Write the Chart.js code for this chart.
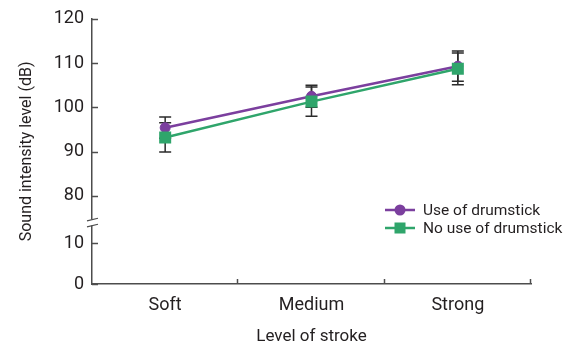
<!DOCTYPE html>
<html><head><meta charset="utf-8">
<script src="https://cdn.jsdelivr.net/npm/chart.js@4.4.0/dist/chart.umd.min.js"></script>
<style>html,body{margin:0;padding:0;background:#fff}</style>
</head><body>
<canvas id="c" width="569" height="344"></canvas>
<script>
// ---- data ----
const categories = ['Soft', 'Medium', 'Strong'];
const seriesNames = ['Use of drumstick', 'No use of drumstick'];
const useMean = [95.4, 102.5, 109.3];
const useSd = [2.4, 2.5, 3.4];
const noMean = [93.2, 101.3, 108.7];
const noSd = [3.3, 3.3, 3.6];
const yTickValues = [0, 10, 80, 90, 100, 110, 120];
const xTitle = 'Level of stroke';
const yTitle = 'Sound intensity level (dB)';

// broken axis mapping: lower segment 0-10, upper segment 80-120 shifted down
const BREAK_LOW = 10, BREAK_HIGH = 80;
const LOW_SCALE = 0.923, HIGH_SHIFT = 60.1;
const tf = v => (v <= BREAK_LOW ? v * LOW_SCALE : v - HIGH_SHIFT);

const FONT = "'Liberation Sans Narrow', 'Arial Narrow', 'Roboto', sans-serif";
const TEXT = '#231f20';
const AXIS = '#4d4d4d';
const PURPLE = '#7b3f9e';
const GREEN = '#2fa56b';
const series = [
  {name: seriesNames[0], mean: useMean, sd: useSd, color: PURPLE, style: 'circle'},
  {name: seriesNames[1], mean: noMean, sd: noSd, color: GREEN, style: 'rect'}
];

const errorBars = {
  id: 'errorBars',
  beforeDatasetsDraw(chart) {
    const {ctx, scales: {x, y}} = chart;
    ctx.save();
    ctx.strokeStyle = '#2b2b2b';
    ctx.lineWidth = 1.5;
    series.forEach(s => {
      s.mean.forEach((m, i) => {
        const px = x.getPixelForValue(i);
        const yt = y.getPixelForValue(tf(m + s.sd[i]));
        const yb = y.getPixelForValue(tf(m - s.sd[i]));
        ctx.beginPath();
        ctx.moveTo(px, yt); ctx.lineTo(px, yb);
        ctx.moveTo(px - 6, yt); ctx.lineTo(px + 6, yt);
        ctx.moveTo(px - 6, yb); ctx.lineTo(px + 6, yb);
        ctx.stroke();
      });
    });
    ctx.restore();
  }
};

const axisDecor = {
  id: 'axisDecor',
  afterDraw(chart) {
    const {ctx, chartArea: a, scales: {x, y}} = chart;
    ctx.save();
    ctx.strokeStyle = AXIS;
    ctx.lineWidth = 1.5;
    // inward y ticks
    y.ticks.forEach(t => {
      const py = Math.round(y.getPixelForValue(t.value)) + 0.5;
      ctx.beginPath(); ctx.moveTo(a.left, py); ctx.lineTo(a.left + 6, py); ctx.stroke();
    });
    // inward x ticks between categories
    const n = categories.length;
    for (let i = 1; i <= n; i++) {
      const px = Math.round(a.left + i * (a.right - a.left) / n) - 0.5;
      ctx.beginPath(); ctx.moveTo(px, a.bottom); ctx.lineTo(px, a.bottom - 5); ctx.stroke();
    }
    // axis break
    const mid = (y.getPixelForValue(tf(BREAK_LOW)) + y.getPixelForValue(tf(BREAK_HIGH))) / 2 + 3;
    ctx.fillStyle = '#fff';
    ctx.fillRect(a.left - 2, mid - 3, 4, 6);
    ctx.lineWidth = 1.2;
    [-3, 3].forEach(d => {
      ctx.beginPath();
      ctx.moveTo(a.left - 5, mid + d + 1.3);
      ctx.lineTo(a.left + 6, mid + d - 1.3);
      ctx.stroke();
    });
    // legend
    const lx = a.right - 146, ly0 = a.bottom - 74, rowH = 18;
    series.forEach((s, i) => {
      const ly = ly0 + i * rowH;
      ctx.strokeStyle = s.color; ctx.fillStyle = s.color; ctx.lineWidth = 2.5;
      ctx.beginPath(); ctx.moveTo(lx, ly); ctx.lineTo(lx + 30, ly); ctx.stroke();
      if (s.style === 'circle') {
        ctx.beginPath(); ctx.arc(lx + 15, ly, 5.5, 0, Math.PI * 2); ctx.fill();
      } else {
        ctx.fillRect(lx + 9.5, ly - 5.5, 11, 11);
      }
      ctx.fillStyle = TEXT;
      ctx.font = '15.5px ' + FONT;
      ctx.textBaseline = 'middle';
      ctx.textAlign = 'left';
      ctx.fillText(s.name, lx + 38, ly + 1);
    });
    ctx.restore();
  }
};

new Chart(document.getElementById('c'), {
  type: 'line',
  data: {
    labels: categories,
    datasets: [
      {label: seriesNames[0], data: useMean.map(tf), borderColor: PURPLE, backgroundColor: PURPLE,
       borderWidth: 2.5, pointStyle: 'circle', pointRadius: 5, pointBorderWidth: 1, order: 1},
      {label: seriesNames[1], data: noMean.map(tf), borderColor: GREEN, backgroundColor: GREEN,
       borderWidth: 2.5, pointStyle: 'rect', pointRadius: 8.5, pointBorderWidth: 0, order: 0}
    ]
  },
  options: {
    responsive: false,
    devicePixelRatio: 1,
    animation: false,
    layout: {padding: {top: 18, right: 38, left: 0, bottom: 0}},
    plugins: {legend: {display: false}, tooltip: {enabled: false}},
    scales: {
      x: {
        type: 'category', offset: true,
        grid: {display: false, drawTicks: false},
        border: {display: true, color: AXIS, width: 1.5},
        ticks: {color: TEXT, font: {family: FONT, size: 18}, padding: 11, maxRotation: 0},
        title: {display: true, text: xTitle, color: TEXT, font: {family: FONT, size: 17, lineHeight: 1}, padding: {top: 0, bottom: -1}},
        afterFit: s => { s.height = 60; }
      },
      y: {
        min: 0, max: tf(120),
        grid: {display: false, drawTicks: false},
        border: {display: true, color: AXIS, width: 1.5},
        afterBuildTicks: s => { s.ticks = yTickValues.map(v => ({value: tf(v)})); },
        ticks: {color: TEXT, font: {family: FONT, size: 18}, padding: 8,
                callback: (val, idx) => String(yTickValues[idx])},
        title: {display: true, text: yTitle, color: TEXT, font: {family: FONT, size: 16, lineHeight: 1}, padding: {top: 19, bottom: 0}},
        afterFit: s => { s.width = 92; }
      }
    }
  },
  plugins: [errorBars, axisDecor]
});
</script>
</body></html>
